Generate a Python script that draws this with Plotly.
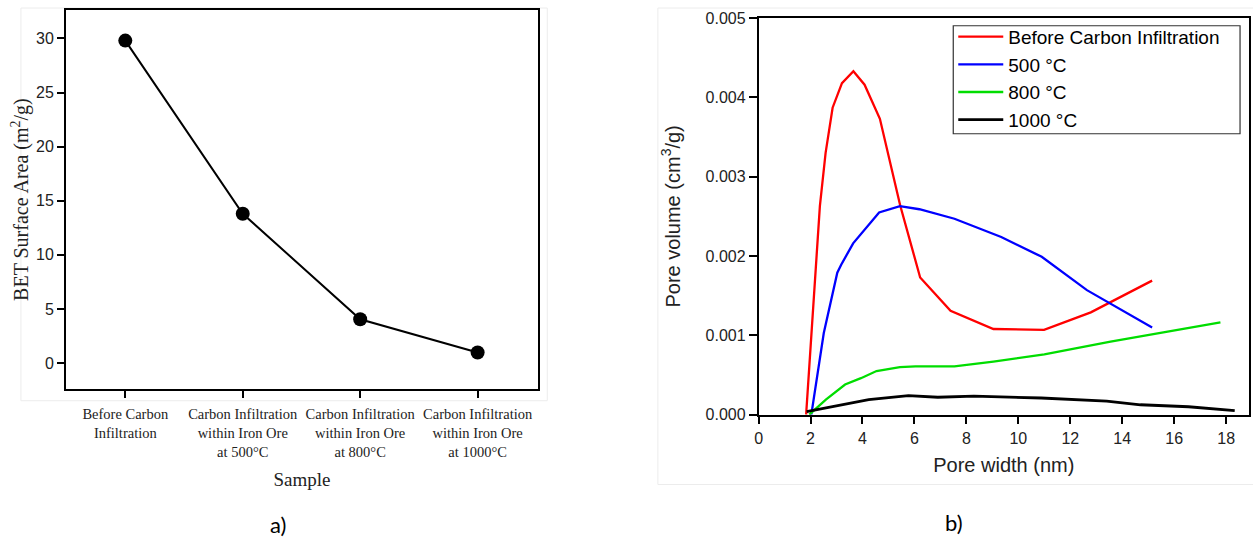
import plotly.graph_objects as go

# ---------------- data ----------------
samples = ["Before Carbon<br>Infiltration",
           "Carbon Infiltration<br>within Iron Ore<br>at 500°C",
           "Carbon Infiltration<br>within Iron Ore<br>at 800°C",
           "Carbon Infiltration<br>within Iron Ore<br>at 1000°C"]
bet_area = [29.8, 13.8, 4.05, 0.98]

before_x = [1.83, 2.36, 2.58, 2.85, 3.21, 3.65, 4.08, 4.67, 5.45, 6.22, 7.39, 9.04, 10.99, 12.79, 15.15]
before_y = [0.0, 0.00263, 0.00330, 0.00387, 0.00418, 0.00433, 0.00416, 0.00373, 0.00264, 0.00173,
            0.00131, 0.00108, 0.00107, 0.00129, 0.00169]

c500_x = [2.03, 2.51, 3.03, 3.18, 3.64, 4.64, 5.44, 6.19, 7.54, 9.34, 10.9, 12.64, 15.15]
c500_y = [0.0, 0.00103, 0.00179, 0.00189, 0.00216, 0.00255, 0.00263, 0.00259, 0.00247, 0.00224,
          0.00199, 0.00157, 0.00110]

c800_x = [1.95, 2.59, 3.33, 3.94, 4.54, 5.44, 6.04, 7.54, 9.04, 11.0, 13.55, 17.78]
c800_y = [0.0, 0.00019, 0.00038, 0.00046, 0.00055, 0.00060, 0.00061, 0.00061, 0.00067, 0.00076,
          0.00092, 0.001165]

c1000_x = [1.85, 3.04, 4.24, 5.77, 6.9, 8.29, 8.97, 10.88, 13.4, 14.7, 16.55, 18.33]
c1000_y = [0.00004, 0.00011, 0.00019, 0.00024, 0.00022, 0.000235, 0.00023, 0.00021, 0.00017,
           0.000125, 0.00010, 0.00005]

series_names = ["Before Carbon Infiltration", "500 °C", "800 °C", "1000 °C"]
series_colors = ["#ff0000", "#0000ff", "#00dd00", "#000000"]
series_widths = [2.3, 2.3, 2.3, 2.8]

y_ticks_b = [0.000, 0.001, 0.002, 0.003, 0.004, 0.005]
x_ticks_b = list(range(0, 19, 2))
y_ticks_a = [0, 5, 10, 15, 20, 25, 30]

# ---------------- figure ----------------
W, H = 1253, 537
fig = go.Figure()

fig.add_trace(go.Scatter(
    x=list(range(len(samples))), y=bet_area, mode="lines+markers",
    line=dict(color="black", width=2),
    marker=dict(color="black", size=14),
    xaxis="x", yaxis="y", showlegend=False))

for xs, ys, nm, col, lw in zip([before_x, c500_x, c800_x, c1000_x],
                               [before_y, c500_y, c800_y, c1000_y],
                               series_names, series_colors, series_widths):
    fig.add_trace(go.Scatter(x=xs, y=ys, mode="lines", name=nm,
                             line=dict(color=col, width=lw),
                             xaxis="x2", yaxis="y2"))

def px_x(p):
    return p / W

def px_y(p):
    # target pixel row -> paper fraction (compensates the capture's vertical mapping)
    q = (p - 7.2) / 0.971
    return min(1.0, max(0.0, 1 - q / H))

sans = "Liberation Sans, Arial, sans-serif"
serif = "Liberation Serif, Times New Roman, serif"

fig.update_layout(
    width=W, height=H,
    margin=dict(l=0, r=0, t=0, b=0),
    paper_bgcolor="white", plot_bgcolor="white",
    xaxis=dict(domain=[px_x(62.3), px_x(535.7)], anchor="y",
               range=[-0.504, 3.514],
               tickvals=list(range(len(samples))), ticktext=samples,
               ticks="outside", ticklen=7, tickwidth=2, tickcolor="black",
               showline=True, linecolor="black", linewidth=2, mirror=True,
               showgrid=False, zeroline=False,
               tickfont=dict(family=serif, size=14.5, color="#222"),
               ticklabelstandoff=4,
               title=dict(text="Sample", font=dict(family=serif, size=19, color="#222"),
                          standoff=14)),
    yaxis=dict(domain=[px_y(389.3), px_y(9.3)], anchor="x",
               range=[-2.4, 32.62],
               tickvals=y_ticks_a,
               ticks="outside", ticklen=7, tickwidth=2, tickcolor="black",
               showline=True, linecolor="black", linewidth=2, mirror=True,
               showgrid=False, zeroline=False,
               tickfont=dict(family=sans, size=16, color="#222"),
               title=dict(text="BET Surface Area (m<sup>2</sup>/g)",
                          font=dict(family=serif, size=20, color="#222"), standoff=2)),
    xaxis2=dict(domain=[px_x(757), px_x(1249)], anchor="y2",
                range=[0, 18.88],
                tickvals=x_ticks_b,
                ticks="outside", ticklen=8, tickwidth=1.5, tickcolor="black",
                showline=True, linecolor="black", linewidth=1.5, mirror=True,
                showgrid=False, zeroline=False,
                tickfont=dict(family=sans, size=16, color="#222"),
                title=dict(text="Pore width (nm)", font=dict(family=sans, size=20, color="#222"),
                           standoff=12)),
    yaxis2=dict(domain=[px_y(415), px_y(17.3)], anchor="x2",
                range=[0, 0.005],
                tickvals=y_ticks_b, tickformat=".3f",
                ticks="outside", ticklen=8, tickwidth=1.5, tickcolor="black",
                showline=True, linecolor="black", linewidth=1.5, mirror=True,
                showgrid=False, zeroline=False,
                tickfont=dict(family=sans, size=16, color="#222"),
                title=dict(text="Pore volume (cm<sup>3</sup>/g)",
                           font=dict(family=sans, size=20, color="#222"), standoff=20)),
    legend=dict(x=px_x(952.3), y=px_y(17), xanchor="left", yanchor="top",
                borderwidth=0, bgcolor="rgba(0,0,0,0)",
                font=dict(family=sans, size=19, color="#000"),
                itemwidth=45, tracegroupgap=0),
    annotations=[
        dict(text="a)", x=px_x(275), y=px_y(525), xref="paper", yref="paper",
             xanchor="center", yanchor="middle",
             showarrow=False, font=dict(family="Lato, sans-serif", size=22, color="black")),
        dict(text="b)", x=px_x(953), y=px_y(523), xref="paper", yref="paper",
             xanchor="center", yanchor="middle",
             showarrow=False, font=dict(family="Lato, sans-serif", size=22, color="black")),
    ],
    shapes=[
        dict(type="rect", xref="paper", yref="paper",
             x0=px_x(17), x1=px_x(545), y0=px_y(401), y1=px_y(3),
             line=dict(color="#ececec", width=1), layer="below"),
        dict(type="rect", xref="paper", yref="paper",
             x0=px_x(656), x1=px_x(1262), y0=px_y(485), y1=px_y(3),
             line=dict(color="#ececec", width=1), layer="below"),
        # legend frame
        dict(type="rect", xref="paper", yref="paper",
             x0=px_x(952.3), x1=px_x(1240), y0=px_y(133.3), y1=px_y(25),
             line=dict(color="#333", width=1.2), fillcolor="white", layer="above"),
    ],
)

fig.write_html("out.html")
